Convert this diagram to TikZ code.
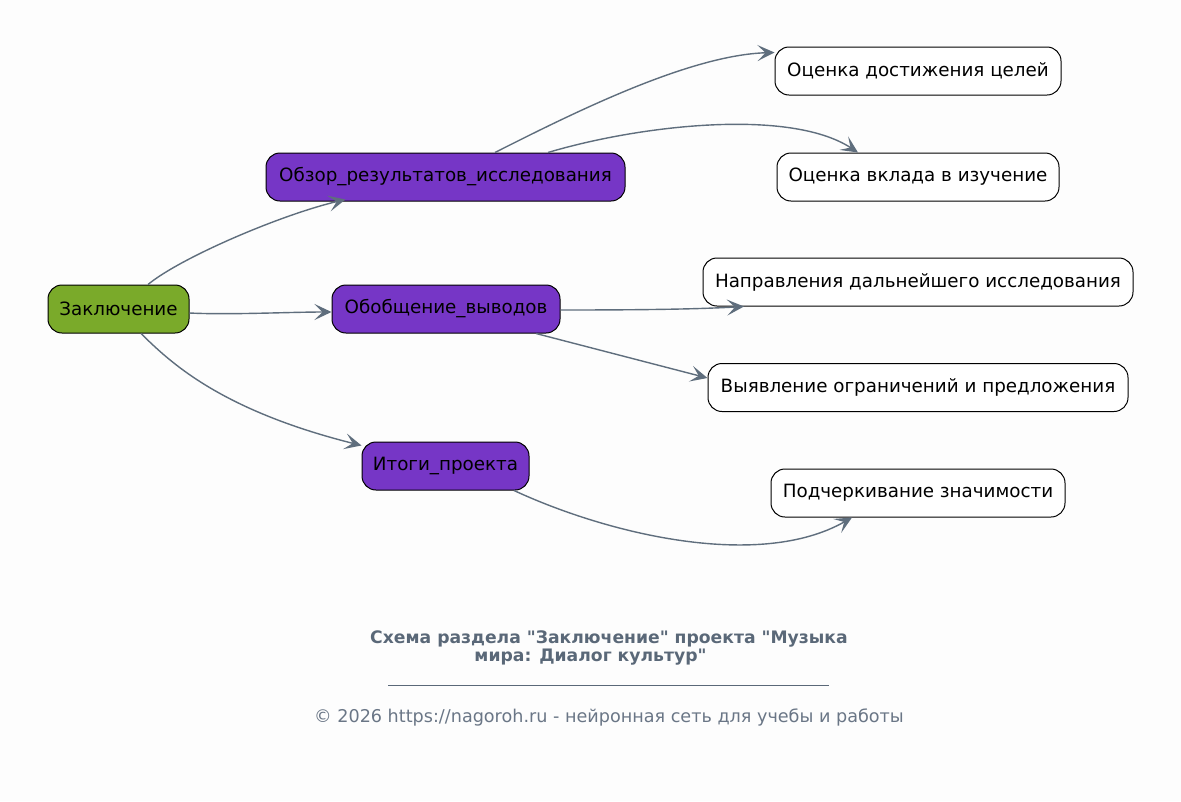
\documentclass[tikz,border=0pt]{standalone}
\usepackage{fontspec}
\setmainfont{DejaVu Sans}[Ligatures=TeXOff]
\usetikzlibrary{arrows.meta}
\definecolor{bg}{HTML}{FDFDFD}
\definecolor{green1}{HTML}{7AAA2A}
\definecolor{purple1}{HTML}{7636C6}
\definecolor{edge}{HTML}{5F6E7D}
\definecolor{titlec}{HTML}{5A6878}
\definecolor{footc}{HTML}{6A7686}
\begin{document}
\begin{tikzpicture}[x=1pt,y=-1pt,
  box/.style={draw=black, line width=1pt, rounded corners=14pt, inner sep=0pt,
    minimum height=48pt, font=\fontsize{18.3}{22}\selectfont, text=black},
  root/.style={box, fill=green1},
  mid/.style={box, fill=purple1},
  leaf/.style={box, fill=white},
  conn/.style={draw=edge, line width=1.4pt, -{Stealth[length=17pt,width=16pt,inset=8pt]}}
]
\fill[bg] (0,0) rectangle (1181,801);
\useasboundingbox (0,0) rectangle (1181,801);

\node[root, minimum width=141pt] (zak) at (118.5,309) {Заключение};
\node[mid, minimum width=359pt] (obz) at (445.5,177) {Обзор\_результатов\_исследования};
\node[mid, minimum width=228pt] (obo) at (446,309) {Обобщение\_выводов};
\node[mid, minimum width=167pt] (itg) at (445.5,466) {Итоги\_проекта};
\node[leaf, minimum width=286pt] (od) at (918,71) {Оценка достижения целей};
\node[leaf, minimum width=282pt] (ov) at (918,177) {Оценка вклада в изучение};
\node[leaf, minimum width=430pt] (nap) at (918,282) {Направления дальнейшего исследования};
\node[leaf, minimum width=420pt] (vyy) at (918,387.5) {Выявление ограничений и предложения};
\node[leaf, minimum width=294pt] (pod) at (918,493) {Подчеркивание значимости};

\draw[conn] ([xshift=29.5pt]zak.north) .. controls (180,258) and (280,215) .. ([xshift=-100pt,yshift=2pt]obz.south);
\draw[conn] ([yshift=-4pt]zak.east) .. controls (230,315) and (290,312) .. ([yshift=-3pt]obo.west);
\draw[conn] ([xshift=22.5pt]zak.south) .. controls (170,362) and (220,410) .. ([yshift=-4pt]itg.north west);
\draw[conn] ([xshift=49.5pt]obz.north) .. controls (575,112) and (690,55) .. ([yshift=-6pt]od.north west);
\draw[conn] ([xshift=102.5pt]obz.north) .. controls (640,125) and (790,108) .. ([xshift=-60pt]ov.north);
\draw[conn] ([yshift=-1pt]obo.east) .. controls (650,310) and (700,309) .. ([xshift=-174pt]nap.south);
\draw[conn] ([xshift=90pt]obo.south) -- ([yshift=9.5pt]vyy.west);
\draw[conn] ([xshift=68.5pt]itg.south) .. controls (610,535) and (760,570) .. ([xshift=-66pt]pod.south);

\node[font=\bfseries\fontsize{17.2}{18}\selectfont, text=titlec, align=center] (title) at (609,648)
  {Схема раздела "Заключение" проекта "Музыка\\мира: Диалог культур"\hspace*{37pt}};
\coordinate (l1) at (388,685);
\coordinate (l2) at (829,685);
\draw[draw=titlec, line width=0.8pt] (l1) -- (l2);
\node[font=\fontsize{17.6}{20}\selectfont, text=footc] (foot) at (609,717)
  {© 2026 https://nagoroh.ru - нейронная сеть для учебы и работы};
\end{tikzpicture}
\end{document}
